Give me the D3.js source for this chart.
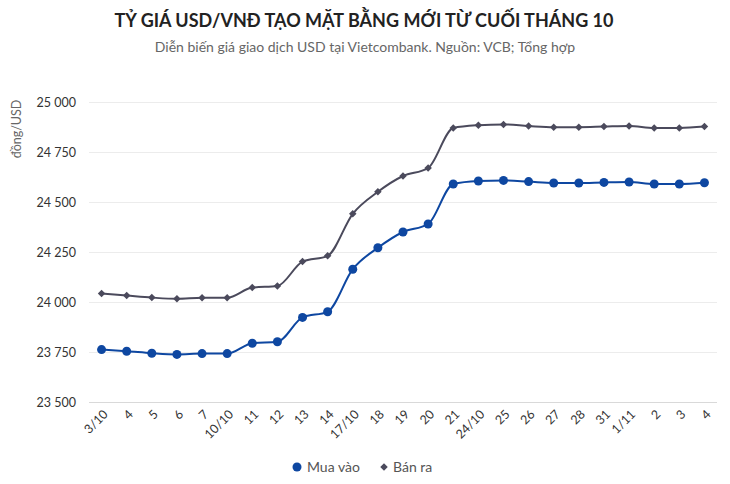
<!DOCTYPE html>
<html><head><meta charset="utf-8">
<script src="https://cdn.jsdelivr.net/npm/d3@7"></script>
<style>body{margin:0;background:#fff;}svg{display:block;font-family:Lato,"Noto Sans",sans-serif;}</style>
</head><body>
<svg id="c" width="730" height="484"></svg>
<script>
const categories = ["3/10","4","5","6","7","10/10","11","12","13","14","17/10","18","19","20","21","24/10","25","26","27","28","31","1/11","2","3","4"];
const muaVao = [23762,23754,23744,23738,23742,23742,23794,23801,23923,23951,24164,24271,24350,24390,24590,24605,24608,24602,24595,24595,24598,24600,24590,24590,24596];
const banRa  = [24042,24032,24022,24016,24021,24021,24072,24080,24202,24231,24441,24551,24630,24670,24870,24884,24888,24880,24874,24874,24877,24880,24870,24870,24877];
const yTicks = [23500,23750,24000,24250,24500,24750,25000];
const seriesNames = ["Mua vào","Bán ra"];

const svg = d3.select("#c");
const M = {l:89, r:717, t:102, b:402};
const x = d3.scaleBand().domain(d3.range(categories.length)).range([M.l, M.r]);
const y = d3.scaleLinear().domain([23500,25000]).range([M.b, M.t]);
const cx = i => x(i) + x.bandwidth()/2;

svg.append("text").attr("x",364).attr("y",27).attr("text-anchor","middle")
  .attr("font-size",18).attr("font-weight",700).attr("fill","#222")
  .text("TỶ GIÁ USD/VNĐ TẠO MẶT BẰNG MỚI TỪ CUỐI THÁNG 10");
svg.append("text").attr("x",365).attr("y",52).attr("text-anchor","middle")
  .attr("font-size",14).attr("fill","#666")
  .text("Diễn biến giá giao dịch USD tại Vietcombank. Nguồn: VCB; Tổng hợp");

// grid
const yAxis = d3.axisLeft(y).tickValues(yTicks).tickSize(-(M.r-M.l)).tickPadding(13)
  .tickFormat(d => d3.format(",")(d).replace(",", " "));
const ga = svg.append("g").attr("transform",`translate(${M.l},0)`).call(yAxis);
ga.select(".domain").remove();
ga.selectAll(".tick line").attr("stroke",d=>d===23500?"#d9d9d9":"#ececec").attr("stroke-width",1);
ga.selectAll(".tick text").attr("font-size",12.5).attr("fill","#333").attr("font-family","Lato,'Noto Sans',sans-serif");

svg.append("text").attr("transform","translate(21,129) rotate(-90)").attr("text-anchor","middle")
  .attr("font-size",12.5).attr("fill","#666").text("đồng/USD");

// x labels (rotated)
svg.append("g").selectAll("text").data(categories).join("text")
  .attr("transform",(d,i)=>`translate(${cx(i)+4},${M.b+10}) rotate(-45)`)
  .attr("text-anchor","end").attr("dy","0.35em")
  .attr("font-size",12.5).attr("fill","#333").text(d=>d);

const line = d3.line().x((d,i)=>cx(i)).y(d=>y(d)).curve(d3.curveMonotoneX);
const colors = ["#0e47a1","#4b4a5c"];
svg.append("path").datum(banRa).attr("d",line).attr("fill","none").attr("stroke",colors[1]).attr("stroke-width",2);
svg.append("path").datum(muaVao).attr("d",line).attr("fill","none").attr("stroke",colors[0]).attr("stroke-width",2);

const diamond = d3.symbol().type(d3.symbolSquare).size(28);
svg.append("g").selectAll("path").data(banRa).join("path").attr("d",diamond)
  .attr("transform",(d,i)=>`translate(${cx(i)},${y(d)}) rotate(45)`).attr("fill",colors[1]);
svg.append("g").selectAll("circle").data(muaVao).join("circle")
  .attr("cx",(d,i)=>cx(i)).attr("cy",d=>y(d)).attr("r",4.5).attr("fill",colors[0]);

// legend
const lg = svg.append("g");
lg.append("circle").attr("cx",297).attr("cy",467).attr("r",4.5).attr("fill",colors[0]);
lg.append("text").attr("x",307).attr("y",472).attr("font-size",14).attr("fill","#555").text(seriesNames[0]);
lg.append("path").attr("d",diamond).attr("transform","translate(384,467) rotate(45)").attr("fill",colors[1]);
lg.append("text").attr("x",393).attr("y",472).attr("font-size",14).attr("fill","#555").text(seriesNames[1]);
</script>
</body></html>
